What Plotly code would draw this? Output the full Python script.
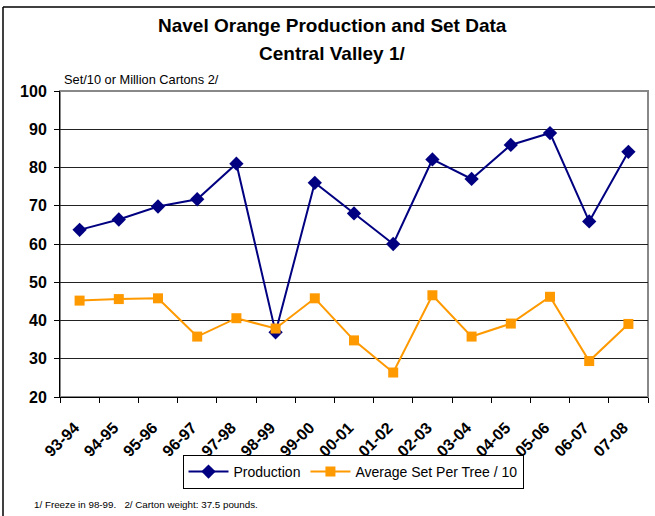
import plotly.graph_objects as go

seasons = ["93-94", "94-95", "95-96", "96-97", "97-98", "98-99", "99-00", "00-01",
           "01-02", "02-03", "03-04", "04-05", "05-06", "06-07", "07-08"]
production = [63.7, 66.4, 69.8, 71.7, 81.0, 36.9, 76.0, 68.0, 60.0, 82.1, 77.0, 85.9, 89.0, 65.9, 84.1]
avg_set = [45.2, 45.6, 45.8, 35.8, 40.6, 37.9, 45.8, 34.8, 26.4, 46.6, 35.8, 39.2, 46.2, 29.4, 39.1]

FONT = "Arial, Liberation Sans, sans-serif"
W, H = 655, 516
L, R, T, B = 60, 7, 91, 119
pw, ph = W - L - R, H - T - B

def px(x):
    return (x - L) / pw

def py(y):
    return (H - B - y) / ph

fig = go.Figure()
fig.add_trace(go.Scatter(
    x=seasons, y=production, name="Production", mode="lines+markers",
    line=dict(color="#000080", width=2),
    marker=dict(symbol="diamond", size=11, color="#000080"),
))
fig.add_trace(go.Scatter(
    x=seasons, y=avg_set, name="Average Set Per Tree / 10", mode="lines+markers",
    line=dict(color="#FF9900", width=2),
    marker=dict(symbol="square", size=10, color="#FF9900"),
))

fig.update_layout(
    width=W, height=H,
    margin=dict(l=L, r=R, t=T, b=B, autoexpand=False),
    paper_bgcolor="white", plot_bgcolor="white",
    font=dict(family=FONT, color="black"),
    showlegend=True,
    legend=dict(
        orientation="h", x=px(353), y=py(472), xanchor="center", yanchor="middle",
        bordercolor="black", borderwidth=1, bgcolor="white",
        font=dict(size=14, family=FONT), itemwidth=40, tracegroupgap=0,
    ),
    xaxis=dict(
        type="category", tickson="boundaries", ticks="outside", ticklen=5,
        tickcolor="black", showline=True, linecolor="black", linewidth=1,
        showgrid=False, tickangle=-45,
        tickfont=dict(size=16, family=FONT, weight="bold"),
        ticklabelstandoff=14, ticklabelshift=-5,
        range=[-0.5, 14.5],
    ),
    yaxis=dict(
        range=[20, 100], dtick=10, ticks="outside", ticklen=5, tickcolor="black",
        showline=True, linecolor="black", linewidth=1,
        showgrid=True, gridcolor="#222222", gridwidth=1,
        tickfont=dict(size=16, family=FONT, weight="bold"),
        ticklabelstandoff=4,
        zeroline=False,
    ),
    shapes=[
        dict(type="rect", xref="paper", yref="paper", x0=0, x1=1, y0=0, y1=1,
             line=dict(color="#888888", width=2), layer="below"),
        dict(type="line", xref="paper", yref="paper", x0=px(3), x1=px(3),
             y0=py(7), y1=py(530), line=dict(color="black", width=1.5)),
        dict(type="line", xref="paper", yref="paper", x0=px(3), x1=px(660),
             y0=py(7), y1=py(7), line=dict(color="black", width=1.5)),
    ],
    annotations=[
        dict(text="<b>Navel Orange Production and Set Data</b>", xref="paper", yref="paper",
             x=px(332), y=py(25), xanchor="center", yanchor="middle", showarrow=False,
             font=dict(size=19, family=FONT)),
        dict(text="<b>Central Valley 1/</b>", xref="paper", yref="paper",
             x=px(332), y=py(53), xanchor="center", yanchor="middle", showarrow=False,
             font=dict(size=19, family=FONT)),
        dict(text="Set/10 or Million Cartons 2/", xref="paper", yref="paper",
             x=px(62), y=py(80), xanchor="left", yanchor="middle", showarrow=False,
             font=dict(size=12.8, family=FONT)),
        dict(text="1/ Freeze in 98-99.   2/ Carton weight: 37.5 pounds.", xref="paper", yref="paper",
             x=px(32), y=py(504), xanchor="left", yanchor="middle", showarrow=False,
             font=dict(size=9.8, family=FONT)),
    ],
)

fig.write_html(
    "out.html",
    config={"displayModeBar": False},
    post_script="document.body.style.margin='0';document.body.style.overflow='hidden';",
)
